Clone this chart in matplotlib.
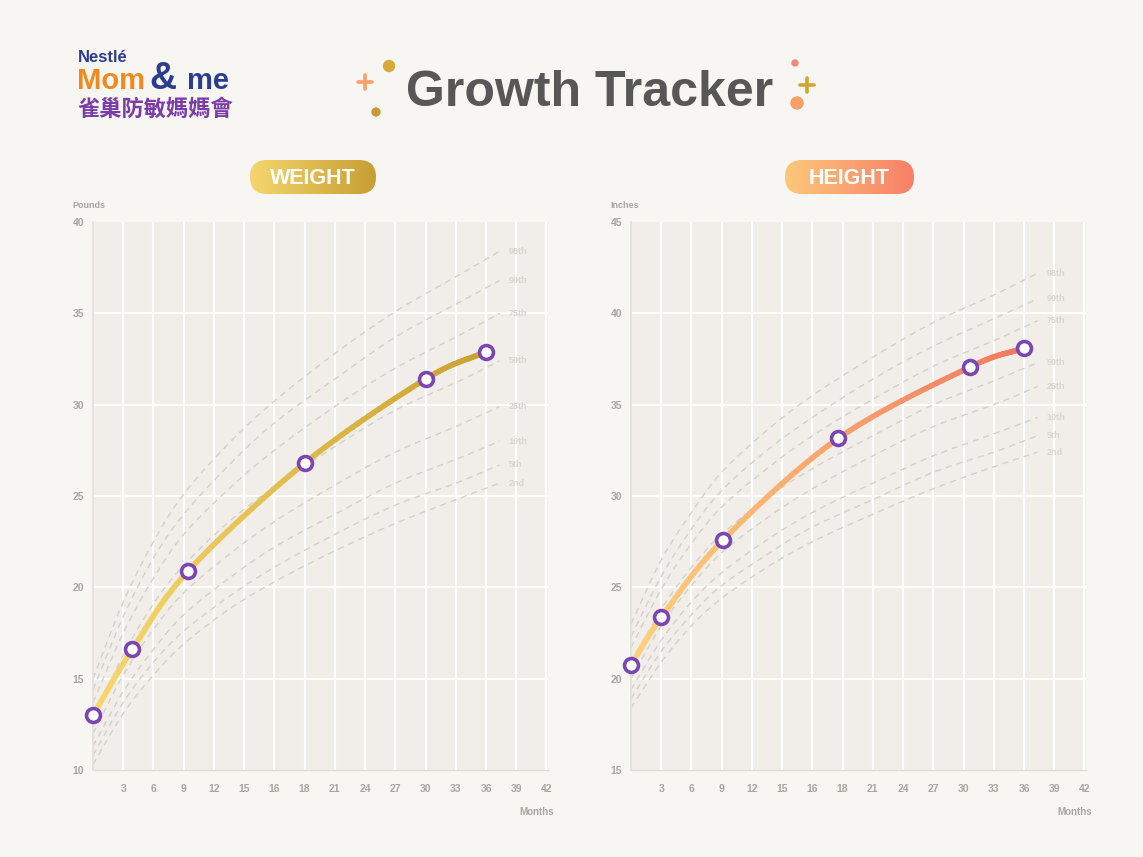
import numpy as np
import matplotlib
matplotlib.use("Agg")
import matplotlib.pyplot as plt
from matplotlib.collections import LineCollection
from matplotlib.colors import LinearSegmentedColormap
from matplotlib.patches import FancyBboxPatch, Circle

plt.rcParams['font.family'] = ['Liberation Sans', 'DejaVu Sans']

# ---------------- data ----------------
month_labels = ["3", "6", "9", "12", "15", "16", "18", "21", "24", "27", "30", "33", "36", "39", "42"]
percentile_names = ["98th", "90th", "75th", "50th", "25th", "10th", "5th", "2nd"]
curve_x = [0, 1, 2, 3, 4.5, 6, 8, 10, 12, 13.45]

weight_curves = [
    [15.0, 19.2, 22.5, 25.1, 27.9, 30.2, 32.8, 35.1, 37.0, 38.4],
    [14.4, 18.4, 21.6, 24.0, 26.7, 29.0, 31.4, 33.7, 35.5, 36.8],
    [13.7, 17.5, 20.5, 22.9, 25.4, 27.5, 29.9, 32.0, 33.7, 35.0],
    [12.8, 16.3, 19.1, 21.2, 23.6, 25.5, 27.7, 29.7, 31.2, 32.4],
    [12.0, 15.2, 17.7, 19.7, 21.8, 23.6, 25.6, 27.4, 28.8, 29.9],
    [11.3, 14.3, 16.6, 18.5, 20.5, 22.2, 24.0, 25.7, 27.0, 28.0],
    [10.8, 13.7, 15.9, 17.6, 19.5, 21.1, 22.9, 24.5, 25.7, 26.7],
    [10.3, 13.1, 15.2, 16.9, 18.8, 20.3, 22.0, 23.5, 24.8, 25.7],
]
height_curves = [
    [23.0, 26.5, 29.1, 31.3, 33.6, 35.5, 37.6, 39.5, 41.0, 42.2],
    [22.3, 25.6, 28.2, 30.3, 32.5, 34.3, 36.4, 38.2, 39.7, 40.8],
    [21.7, 24.9, 27.4, 29.4, 31.5, 33.3, 35.3, 37.1, 38.5, 39.6],
    [20.8, 23.8, 26.1, 27.9, 29.9, 31.5, 33.3, 35.0, 36.3, 37.3],
    [20.0, 22.9, 25.1, 26.9, 28.8, 30.4, 32.2, 33.8, 35.0, 36.0],
    [19.4, 22.1, 24.2, 25.8, 27.6, 29.1, 30.7, 32.2, 33.4, 34.3],
    [18.9, 21.5, 23.5, 25.1, 26.8, 28.3, 29.8, 31.3, 32.4, 33.3],
    [18.4, 20.9, 22.9, 24.4, 26.1, 27.5, 29.0, 30.4, 31.6, 32.4],
]

weight_x = [0, 1.3, 3.15, 7, 11, 13]
weight_y = [13.0, 16.6, 20.9, 26.8, 31.4, 32.9]
height_x = [0, 1, 3.05, 6.85, 11.2, 13]
height_y = [20.75, 23.35, 27.6, 33.15, 37.05, 38.1]

weight_yticks = [10, 15, 20, 25, 30, 35, 40]
height_yticks = [15, 20, 25, 30, 35, 40, 45]

# ---------------- style ----------------
BG = "#f8f6f2"
PLOT_BG = "#f1eee9"
TICK_C = "#a9a6a1"
PCT_LINE = "#d4d1cc"
PCT_TEXT = "#d9d5cf"
MARK_EDGE = "#7a46b3"

W, H = 1143, 857
fig = plt.figure(figsize=(W / 100, H / 100), dpi=100, facecolor=BG)


def px_axes(x0, y0, x1, y1):
    return fig.add_axes([x0 / W, 1 - y1 / H, (x1 - x0) / W, (y1 - y0) / H])


def smooth(xs, ys, n=16):
    """Catmull-Rom rendering of a polyline through the given points."""
    P = np.column_stack([xs, ys]).astype(float)
    P = np.vstack([2 * P[0] - P[1], P, 2 * P[-1] - P[-2]])
    out = []
    t = np.linspace(0, 1, n, endpoint=False)[:, None]
    for i in range(1, len(P) - 2):
        p0, p1, p2, p3 = P[i - 1], P[i], P[i + 1], P[i + 2]
        seg = 0.5 * ((2 * p1) + (-p0 + p2) * t + (2 * p0 - 5 * p1 + 4 * p2 - p3) * t ** 2
                     + (-p0 + 3 * p1 - 3 * p2 + p3) * t ** 3)
        out.append(seg)
    out.append(P[-2][None, :])
    out = np.vstack(out)
    return out[:, 0], out[:, 1]


def gradient_line(ax, xs, ys, c0, c1, lw):
    sx, sy = smooth(xs, ys, 24)
    cmap = LinearSegmentedColormap.from_list("g", [c0, c1])
    xmin, xmax = sx.min(), sx.max()
    segs, cols = [], []
    for j in range(len(sx) - 1):
        segs.append([(sx[j], sy[j]), (sx[j + 1], sy[j + 1])])
        cols.append(cmap((sx[j] - xmin) / (xmax - xmin)))
    lc = LineCollection(segs, colors=cols, linewidths=lw, capstyle='round', zorder=5)
    ax.add_collection(lc)


def make_chart(ax, yticks, curves, kx, ky, c0, c1, ylabel):
    ax.set_facecolor(PLOT_BG)
    ax.set_xlim(0, 15.05)
    ax.set_ylim(yticks[0], yticks[-1])
    positions = list(range(1, len(month_labels) + 1))
    ax.set_xticks(positions)
    ax.set_xticklabels(month_labels)
    ax.set_yticks(yticks)
    ax.set_yticklabels([str(t) for t in yticks])
    for p in positions:
        ax.axvline(p, color="white", lw=1.6, zorder=1)
    for t in yticks[1:-1]:
        ax.axhline(t, color="white", lw=1.6, zorder=1)
    for s in ["top", "right"]:
        ax.spines[s].set_visible(False)
    ax.spines["left"].set_color("#e3e0db")
    ax.spines["bottom"].set_color("#e0ddd8")
    ax.spines["left"].set_linewidth(1.2)
    ax.spines["bottom"].set_linewidth(1.0)
    ax.tick_params(axis='x', length=0, labelsize=7.5, labelcolor=TICK_C, pad=10)
    ax.tick_params(axis='y', length=0, labelsize=7.5, labelcolor=TICK_C, pad=14.5)
    for lab in ax.get_xticklabels() + ax.get_yticklabels():
        lab.set_fontweight("bold")
    for lab in ax.get_yticklabels():
        lab.set_horizontalalignment("left")
    for name, cy in zip(percentile_names, curves):
        sx, sy = smooth(curve_x, cy)
        ax.plot(sx, sy, color=PCT_LINE, lw=1.0, dashes=(4.5, 3.5), zorder=2)
        ax.text(curve_x[-1] + 0.3, cy[-1], name, color=PCT_TEXT, fontsize=6.5,
                fontweight="bold", va="center", ha="left", zorder=3)
    gradient_line(ax, kx, ky, c0, c1, 4.0)
    ax.plot(kx, ky, ls="none", marker="o", ms=10, mfc="white", mec=MARK_EDGE,
            mew=2.6, zorder=6, clip_on=False)
    ax.text(-0.045, 1.03, ylabel, transform=ax.transAxes, ha="left", va="center",
            fontsize=6.5, fontweight="bold", color=TICK_C)
    ax.text(0.975, -0.077, "Months", transform=ax.transAxes, ha="center", va="center",
            fontsize=7, fontweight="bold", color=TICK_C)


ax1 = px_axes(93, 222, 548, 770)
make_chart(ax1, weight_yticks, weight_curves, weight_x, weight_y, "#f8d86e", "#c9a12e", "Pounds")
ax2 = px_axes(631, 222, 1086, 770)
make_chart(ax2, height_yticks, height_curves, height_x, height_y, "#fdd27d", "#f27760", "Inches")

# ---------------- overlay (title, pills, logo) ----------------
ov = fig.add_axes([0, 0, 1, 1], facecolor="none")
ov.set_xlim(0, W)
ov.set_ylim(H, 0)
ov.axis("off")

ov.text(590, 93, "Growth Tracker", ha="center", va="center", fontsize=36,
        fontweight="bold", color="#575757")


def plus(x, y, s, color, lw):
    ov.plot([x - s, x + s], [y, y], color=color, lw=lw, solid_capstyle="round")
    ov.plot([x, x], [y - s, y + s], color=color, lw=lw, solid_capstyle="round")


plus(365, 82, 7, "#f7a06a", 2.6)
ov.add_patch(Circle((389, 66), 5.5, color="#d7a93a"))
ov.add_patch(Circle((376, 112), 4, color="#c99a36"))
ov.add_patch(Circle((795, 63), 3, color="#f58a7a"))
plus(807, 85, 7, "#d3a52e", 2.6)
ov.add_patch(Circle((797, 103), 6, color="#f9a066"))


def pill(x0, y0, w, h, c0, c1, text):
    patch = FancyBboxPatch((x0, y0), w, h, boxstyle=f"round,pad=0,rounding_size={h/2}",
                           fc="none", ec="none")
    ov.add_patch(patch)
    grad = np.linspace(0, 1, 256).reshape(1, -1)
    cmap = LinearSegmentedColormap.from_list("p", [c0, c1])
    im = ov.imshow(grad, cmap=cmap, extent=[x0, x0 + w, y0 + h, y0], aspect="auto", zorder=2)
    im.set_clip_path(patch)
    ov.text(x0 + w / 2, y0 + h / 2 + 1, text, ha="center", va="center", color="white",
            fontsize=15.5, fontweight="bold", zorder=3)


pill(250, 160, 126, 34, "#f5d66e", "#c79e34", "WEIGHT")
pill(785, 160, 129, 34, "#fdc87a", "#f77f68", "HEIGHT")
ov.set_xlim(0, W)
ov.set_ylim(H, 0)

# logo
ov.text(78, 57, "Nestlé", ha="left", va="center", fontsize=12, fontweight="bold",
        color="#2c3d8f")
ov.text(77, 81, "Mom", ha="left", va="center", fontsize=21, fontweight="bold",
        color="#f08a1e")
ov.text(149, 79, "&", ha="left", va="center", fontsize=27, fontweight="bold",
        color="#2c3d8f")
ov.text(187, 81, "me", ha="left", va="center", fontsize=21, fontweight="bold",
        color="#2c3d8f")
ov.text(77, 109, "雀巢防敏媽媽會", ha="left", va="center", fontsize=16,
        fontweight="bold", color="#7a3da6", family=["Noto Sans CJK TC", "DejaVu Sans"])

fig.savefig("out.png", dpi=100, facecolor=BG)
